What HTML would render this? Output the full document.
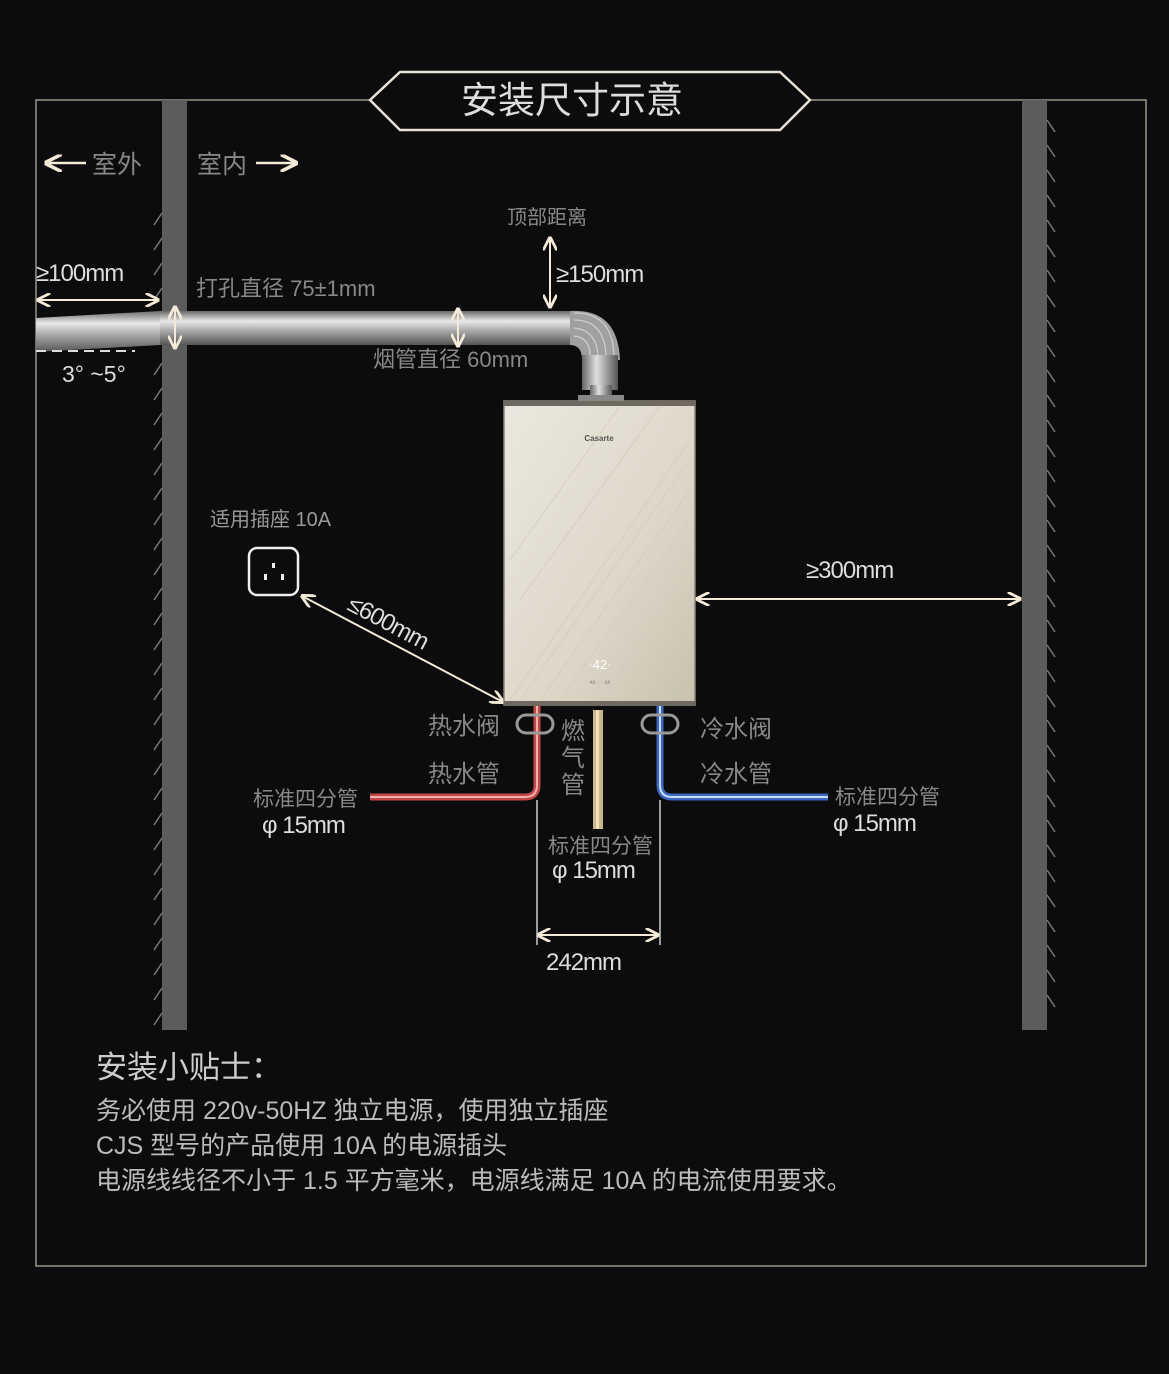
<!DOCTYPE html>
<html><head><meta charset="utf-8"><style>
html,body{margin:0;padding:0;background:#0c0b0d;}
svg{display:block}
text{font-family:"Liberation Sans","Noto Sans CJK SC",sans-serif;}
</style></head><body>
<svg width="1169" height="1374" viewBox="0 0 1169 1374" xmlns="http://www.w3.org/2000/svg">
<defs>
<linearGradient id="pipe" x1="0" y1="0" x2="0" y2="1">
<stop offset="0" stop-color="#6a6a6a"/><stop offset="0.3" stop-color="#e8e8e8"/><stop offset="0.55" stop-color="#b0b0b0"/><stop offset="1" stop-color="#555"/></linearGradient>
<linearGradient id="pipev" x1="0" y1="0" x2="1" y2="0">
<stop offset="0" stop-color="#666"/><stop offset="0.4" stop-color="#e0e0e0"/><stop offset="1" stop-color="#555"/></linearGradient>
<linearGradient id="body" x1="0" y1="0" x2="1" y2="1">
<stop offset="0" stop-color="#ebe8df"/><stop offset="0.6" stop-color="#ddd7c8"/><stop offset="1" stop-color="#c9c1ae"/></linearGradient>
<marker id="ar" viewBox="0 0 10 10" refX="9" refY="5" markerWidth="7" markerHeight="7" orient="auto-start-reverse"><path d="M0,0 L10,5 L0,10" fill="none" stroke="#f3ead8" stroke-width="2"/></marker>
</defs>
<rect width="1169" height="1374" fill="#0c0b0d"/>
<path d="M370,100 H36 V1266 H1146 V100 H810" fill="none" stroke="#9a9488" stroke-width="1.5"/>
<polygon points="370,100 400,72 780,72 810,100 780,130 400,130" fill="#0c0b0d" stroke="#e8e2d6" stroke-width="2.5"/>
<text x="572" y="113" font-size="37" fill="#ddd" text-anchor="middle">安装尺寸示意</text>
<rect x="162" y="100" width="25" height="930" fill="#5c5c5c"/>
<rect x="1022" y="100" width="25" height="930" fill="#5c5c5c"/>
<g stroke="#777" stroke-width="1.5">
<path d="M154,225 l8,-12 M154,250 l8,-12 M154,275 l8,-12 M154,300 l8,-12 M154,375 l8,-12 M154,400 l8,-12 M154,425 l8,-12 M154,450 l8,-12 M154,475 l8,-12 M154,500 l8,-12 M154,525 l8,-12 M154,550 l8,-12 M154,575 l8,-12 M154,600 l8,-12 M154,625 l8,-12 M154,650 l8,-12 M154,675 l8,-12 M154,700 l8,-12 M154,725 l8,-12 M154,750 l8,-12 M154,775 l8,-12 M154,800 l8,-12 M154,825 l8,-12 M154,850 l8,-12 M154,875 l8,-12 M154,900 l8,-12 M154,925 l8,-12 M154,950 l8,-12 M154,975 l8,-12 M154,1000 l8,-12 M154,1025 l8,-12"/>
<path d="M1047,120 l8,12 M1047,145 l8,12 M1047,170 l8,12 M1047,195 l8,12 M1047,220 l8,12 M1047,245 l8,12 M1047,270 l8,12 M1047,295 l8,12 M1047,320 l8,12 M1047,345 l8,12 M1047,370 l8,12 M1047,395 l8,12 M1047,420 l8,12 M1047,445 l8,12 M1047,470 l8,12 M1047,495 l8,12 M1047,520 l8,12 M1047,545 l8,12 M1047,570 l8,12 M1047,595 l8,12 M1047,620 l8,12 M1047,645 l8,12 M1047,670 l8,12 M1047,695 l8,12 M1047,720 l8,12 M1047,745 l8,12 M1047,770 l8,12 M1047,795 l8,12 M1047,820 l8,12 M1047,845 l8,12 M1047,870 l8,12 M1047,895 l8,12 M1047,920 l8,12 M1047,945 l8,12 M1047,970 l8,12 M1047,995 l8,12"/>
</g>
<g stroke="#f3ead8" stroke-width="2.5" fill="none">
<line x1="46" y1="163" x2="86" y2="163" marker-start="url(#ar)"/>
<line x1="256" y1="163" x2="296" y2="163" marker-end="url(#ar)"/>
</g>
<text x="92" y="173" font-size="25" fill="#888">室外</text>
<text x="197" y="173" font-size="25" fill="#888">室内</text>
<path d="M36,318 L160,311 L160,345 L36,352 Z" fill="url(#pipe)"/>
<rect x="160" y="311" width="415" height="34" fill="url(#pipe)"/>
<path d="M570,311 Q618,308 620,360 L582,360 Q582,345 570,345 Z" fill="#a0a0a0"/>
<g stroke="#cfcfcf" stroke-width="1.2" fill="none"><path d="M574,313 Q612,312 614,355 M574,320 Q604,320 606,355 M574,328 Q596,330 598,355 M574,336 Q590,338 590,355"/></g>
<rect x="582" y="355" width="36" height="35" fill="url(#pipev)"/>
<rect x="590" y="385" width="22" height="17" fill="url(#pipev)"/>
<rect x="578" y="395" width="46" height="7" fill="#888"/>
<line x1="36" y1="351" x2="135" y2="351" stroke="#ddd" stroke-width="2" stroke-dasharray="10,6"/>
<text x="62" y="382" font-size="23" fill="#ddd">3° ~5°</text>
<g stroke="#f3ead8" stroke-width="2" fill="none">
<line x1="38" y1="300" x2="158" y2="300" marker-start="url(#ar)" marker-end="url(#ar)"/>
<line x1="175" y1="307" x2="175" y2="348" marker-start="url(#ar)" marker-end="url(#ar)"/>
<line x1="458" y1="309" x2="458" y2="346" marker-start="url(#ar)" marker-end="url(#ar)"/>
<line x1="550" y1="238" x2="550" y2="307" marker-start="url(#ar)" marker-end="url(#ar)"/>
<line x1="697" y1="599" x2="1020" y2="599" marker-start="url(#ar)" marker-end="url(#ar)"/>
<line x1="302" y1="596" x2="503" y2="702" marker-start="url(#ar)" marker-end="url(#ar)"/>
<line x1="538" y1="935" x2="658" y2="935" marker-start="url(#ar)" marker-end="url(#ar)"/>
</g>
<text x="36" y="281" font-size="24" fill="#ddd" letter-spacing="-1">≥100mm</text>
<text x="196" y="296" font-size="22" fill="#888">打孔直径 75±1mm</text>
<text x="373" y="367" font-size="22" fill="#888">烟管直径 60mm</text>
<text x="507" y="224" font-size="20" fill="#888">顶部距离</text>
<text x="556" y="282" font-size="24" fill="#ddd" letter-spacing="-1">≥150mm</text>
<rect x="504" y="401" width="191" height="304" fill="url(#body)" stroke="#8a8478" stroke-width="1.5"/>
<rect x="504" y="401" width="191" height="5" fill="#6e6a62"/>
<g stroke="#d2ccbc" stroke-width="1" fill="none" opacity="0.8">
<path d="M510,700 L690,440 M520,700 L690,460 M540,700 L690,490 M560,700 L690,520 M600,700 L690,570 M630,700 L690,610 M520,600 L660,406 M510,560 L620,406"/>
</g>
<text x="599" y="441" font-size="8" font-weight="bold" fill="#555" text-anchor="middle">Casarte</text>
<text x="600" y="669" font-size="13" fill="#fff" text-anchor="middle">·42·</text>
<text x="600" y="684" font-size="6" fill="#777" text-anchor="middle">ᴧᴧ · · ᴧᴧ</text>
<rect x="504" y="701" width="191" height="5" fill="#6e6a62"/>
<rect x="249" y="548" width="49" height="47" rx="8" fill="none" stroke="#eee" stroke-width="2.5"/>
<rect x="264" y="574" width="3" height="6" fill="#eee"/><rect x="281" y="574" width="3" height="6" fill="#eee"/><rect x="272" y="563" width="3" height="5" fill="#eee"/>
<text x="210" y="526" font-size="20" fill="#999">适用插座 10A</text>
<text x="0" y="0" font-size="24" fill="#ddd" transform="translate(346,609) rotate(28)" letter-spacing="-1">≤600mm</text>
<text x="806" y="578" font-size="24" fill="#ddd" letter-spacing="-1">≥300mm</text>
<path d="M537,706 V785 Q537,797 525,797 H370" fill="none" stroke="#c04848" stroke-width="7"/>
<path d="M537,706 V785 Q537,797 525,797 H370" fill="none" stroke="#f0b0b0" stroke-width="2"/>
<path d="M660,706 V785 Q660,797 672,797 H828" fill="none" stroke="#3d68c0" stroke-width="7"/>
<path d="M660,706 V785 Q660,797 672,797 H828" fill="none" stroke="#c8dcff" stroke-width="2"/>
<rect x="593" y="710" width="10" height="119" fill="#c9b88a"/>
<rect x="596" y="710" width="3" height="119" fill="#eee0b8"/>
<rect x="517" y="715" width="36" height="18" rx="9" fill="none" stroke="#999" stroke-width="3"/>
<rect x="642" y="715" width="36" height="18" rx="9" fill="none" stroke="#999" stroke-width="3"/>
<line x1="537" y1="800" x2="537" y2="945" stroke="#ccc" stroke-width="1.5"/>
<line x1="660" y1="800" x2="660" y2="945" stroke="#ccc" stroke-width="1.5"/>
<g font-size="24" fill="#888">
<text x="428" y="734">热水阀</text>
<text x="428" y="782">热水管</text>
<text x="700" y="737">冷水阀</text>
<text x="700" y="782">冷水管</text>
<text x="561" y="739">燃</text><text x="561" y="766">气</text><text x="561" y="793">管</text>
</g>
<g font-size="21" fill="#888">
<text x="253" y="806">标准四分管</text>
<text x="835" y="804">标准四分管</text>
<text x="548" y="853">标准四分管</text>
</g>
<g font-size="24" fill="#ddd" letter-spacing="-1">
<text x="262" y="833">φ 15mm</text>
<text x="833" y="831">φ 15mm</text>
<text x="552" y="878">φ 15mm</text>
<text x="546" y="970">242mm</text>
</g>
<text x="96" y="1078" font-size="31" fill="#ccc">安装小贴士：</text>
<g font-size="25" fill="#bbb">
<text x="96" y="1119">务必使用 220v-50HZ 独立电源，使用独立插座</text>
<text x="96" y="1154">CJS 型号的产品使用 10A 的电源插头</text>
<text x="96" y="1189">电源线线径不小于 1.5 平方毫米，电源线满足 10A 的电流使用要求。</text>
</g>
</svg>
</body></html>
